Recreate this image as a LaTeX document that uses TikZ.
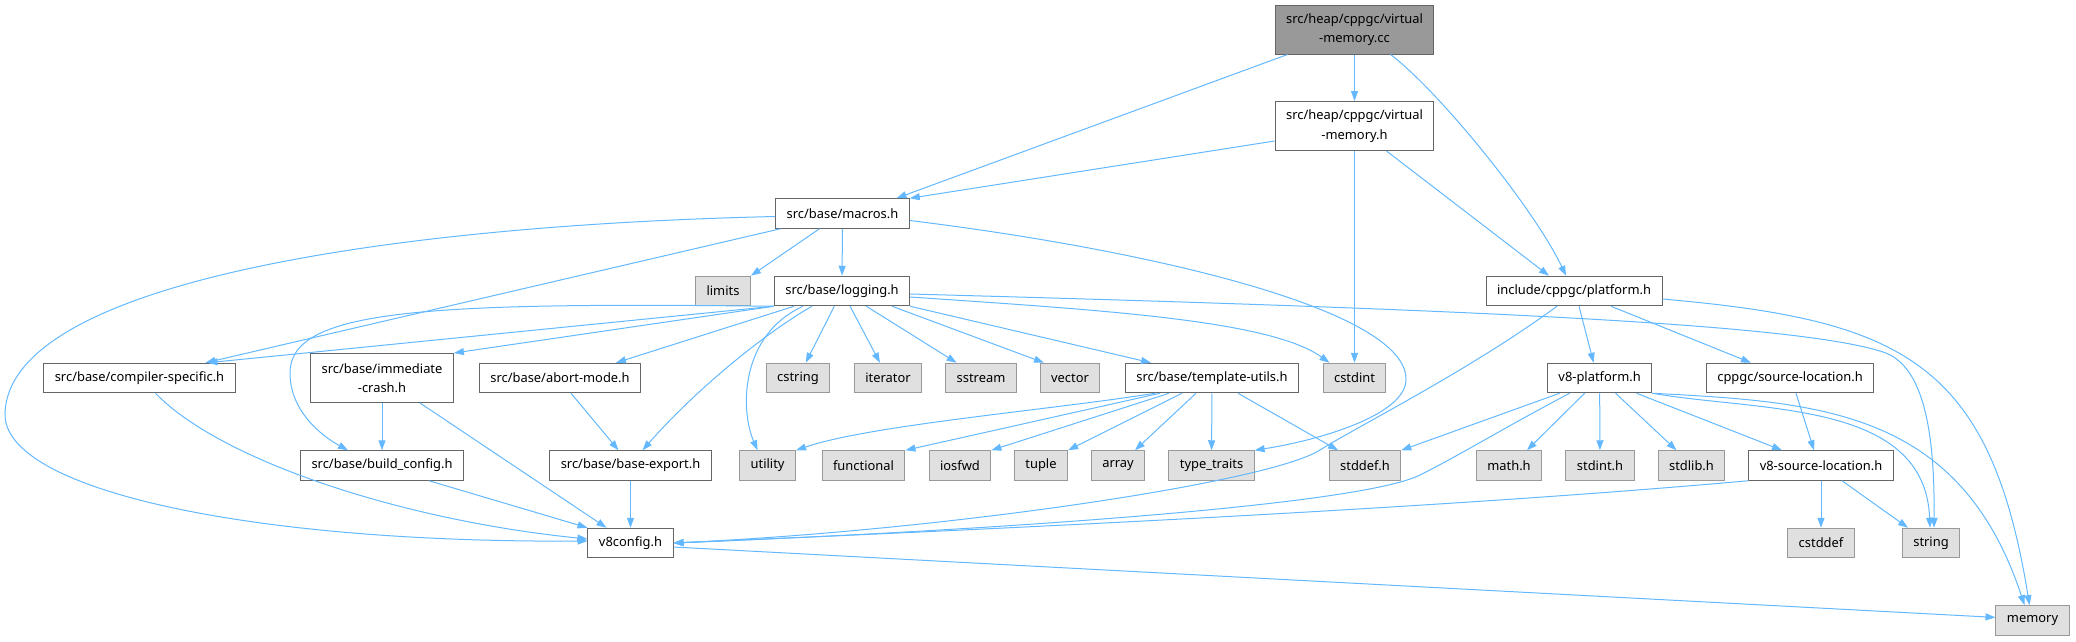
\documentclass[tikz,border=0pt]{standalone}
\usepackage{fontspec}
\setmainfont{Noto Sans}
\usepackage{tikz}
\usetikzlibrary{arrows.meta}
\definecolor{edgeblue}{HTML}{63B8FF}
\definecolor{boxline}{HTML}{666666}
\definecolor{sysline}{HTML}{999999}
\definecolor{sysfill}{HTML}{E0E0E0}
\definecolor{mainfill}{HTML}{999999}

\begin{document}
\begin{tikzpicture}[
  x=1pt, y=-1pt,
  hdr/.style={rectangle, draw=boxline, fill=white, line width=1pt,
    inner xsep=11pt, inner ysep=4pt, minimum height=29.5pt, align=center,
    font=\fontsize{12.9}{19.5}\selectfont},
  twoline/.style={minimum height=49pt},
  mainhdr/.style={hdr, twoline, fill=mainfill},
  syshdr/.style={hdr, draw=sysline, fill=sysfill},
  dep/.style={-{Triangle[length=10pt, width=7pt]}, edgeblue, line width=1pt},
]
\useasboundingbox (0,0) rectangle (2076,641);

\node[mainhdr] (cc) at (1354.5,29.5) {src/heap/cppgc/virtual\\-memory.cc};
\node[hdr, twoline] (vmh) at (1354.5,126) {src/heap/cppgc/virtual\\-memory.h};
\node[hdr] (macros) at (842.5,213.5) {src/base/macros.h};
\node[syshdr] (limits) at (723,291) {limits};
\node[hdr] (logging) at (842,291) {src/base/logging.h};
\node[hdr] (platform) at (1574,291) {include/cppgc/platform.h};

\node[hdr] (compspec) at (139.5,378) {src/base/compiler-specific.h};
\node[hdr, twoline] (immcrash) at (382,378) {src/base/immediate\\-crash.h};
\node[hdr] (abortmode) at (560,378) {src/base/abort-mode.h};
\node[syshdr] (cstring) at (798,378) {cstring};
\node[syshdr] (iterator) at (888,378) {iterator};
\node[syshdr] (sstream) at (981,378) {sstream};
\node[syshdr] (vector) at (1070,378) {vector};
\node[hdr] (templ) at (1212,378) {src/base/template-utils.h};
\node[syshdr] (cstdint) at (1354.5,378) {cstdint};
\node[hdr] (v8platform) at (1599.6,378) {v8-platform.h};
\node[hdr] (srcloc) at (1790,378) {cppgc/source-location.h};

\node[hdr] (buildcfg) at (382,465.5) {src/base/build\_config.h};
\node[hdr] (baseexport) at (630.5,465.5) {src/base/base-export.h};
\node[syshdr] (utility) at (767.6,465.5) {utility};
\node[syshdr] (functional) at (863.5,465.5) {functional};
\node[syshdr] (iosfwd) at (960,465.5) {iosfwd};
\node[syshdr] (tuple) at (1041,465.5) {tuple};
\node[syshdr] (array) at (1118,465.5) {array};
\node[syshdr] (typetraits) at (1211.5,465.5) {type\_traits};
\node[syshdr] (stddef) at (1365,465.5) {stddef.h};
\node[syshdr] (mathh) at (1509,465.5) {math.h};
\node[syshdr] (stdinth) at (1600,465.5) {stdint.h};
\node[syshdr] (stdlibh) at (1691.5,465.5) {stdlib.h};
\node[hdr] (v8srcloc) at (1821,465.5) {v8-source-location.h};

\node[hdr] (v8config) at (630.5,543) {v8config.h};
\node[syshdr] (cstddef) at (1821,543) {cstddef};
\node[syshdr] (string) at (1931,543) {string};
\node[syshdr] (memory) at (2032.5,620.4) {memory};

\draw[dep] ([xshift=-67pt]cc.south) -- ([xshift=54pt]macros.north);
\draw[dep] (cc) -- (vmh);
\draw[dep] ([xshift=36pt]cc.south) .. controls (1440,92) and (1535,210) .. ([xshift=-8pt]platform.north);

\draw[dep] ([yshift=-15pt]vmh.west) -- (macros.north east);
\draw[dep] (vmh) -- (cstdint);
\draw[dep] ([xshift=32pt]vmh.south) -- ([xshift=-25pt]platform.north);

\draw[dep] ([yshift=-3pt]macros.west) .. controls (400,225) and (10,280) .. (5,413) .. controls (2,490) and (250,543) .. ([yshift=2pt]v8config.west);
\draw[dep] ([xshift=-23pt]macros.south) -- (limits.north east);
\draw[dep] (macros) -- (logging);
\draw[dep] ([xshift=-62pt]macros.south) -- ([xshift=66pt]compspec.north);
\draw[dep] ([yshift=-7pt]macros.east) .. controls (1150,250) and (1408,310) .. (1406,380) .. controls (1405,415) and (1320,440) .. (typetraits.north east);

\draw[dep] (logging.south west) -- ([xshift=68pt]compspec.north);
\draw[dep] (logging.south west) .. controls (420,302) and (290,310) .. (290,373) .. controls (290,410) and (320,435) .. ([xshift=-34pt]buildcfg.north);
\draw[dep] (logging.south west) -- (immcrash.north east);
\draw[dep] ([xshift=-48pt]logging.south) -- ([xshift=56pt]abortmode.north);
\draw[dep] ([xshift=-30pt]logging.south) .. controls (770,330) and (700,385) .. ([xshift=12pt]baseexport.north);
\draw[dep] ([xshift=-39pt]logging.south) .. controls (740,335) and (740,410) .. ([xshift=-10pt]utility.north);
\draw[dep] (logging) -- (cstring);
\draw[dep] (logging) -- (iterator);
\draw[dep] (logging) -- (sstream);
\draw[dep] ([xshift=50pt]logging.south) -- ([xshift=-26pt]vector.north);
\draw[dep] (logging.south east) -- ([xshift=-61pt]templ.north);
\draw[dep] ([yshift=-6pt]logging.east) .. controls (1100,310) and (1270,320) .. ([xshift=-25pt]cstdint.north);
\draw[dep] ([yshift=-3pt]logging.east) .. controls (1500,310) and (1800,325) .. (1883,352) .. controls (1920,364) and (1935,420) .. ([xshift=3pt]string.north);

\draw[dep] ([xshift=16pt]compspec.south) .. controls (220,460) and (400,520) .. ([yshift=4pt]v8config.west);
\draw[dep] (immcrash) -- (buildcfg);
\draw[dep] ([xshift=38pt]immcrash.south) -- ([xshift=-24pt]v8config.north);
\draw[dep] ([xshift=11pt]abortmode.south) -- ([xshift=-12pt]baseexport.north);
\draw[dep] ([xshift=47pt]buildcfg.south) -- (v8config.north west);
\draw[dep] (baseexport) -- (v8config);

\draw[dep] ([xshift=-57pt]templ.south) .. controls (1050,410) and (870,425) .. (utility.north east);
\draw[dep] ([xshift=-52pt]templ.south) -- (functional.north east);
\draw[dep] ([xshift=-43pt]templ.south) -- (iosfwd.north east);
\draw[dep] ([xshift=-30pt]templ.south) -- (tuple.north east);
\draw[dep] ([xshift=-16pt]templ.south) -- ([xshift=17pt]array.north);
\draw[dep] (templ) -- (typetraits);
\draw[dep] ([xshift=26pt]templ.south) -- ([xshift=-27pt]stddef.north);

\draw[dep] ([xshift=-17pt]platform.south) .. controls (1470,370) and (1360,425) .. (1320,450) .. controls (1270,482) and (950,530) .. (v8config.east);
\draw[dep] ([yshift=-8pt]platform.east) .. controls (1900,320) and (1990,360) .. ([xshift=-3pt]memory.north);
\draw[dep] ([xshift=5pt]platform.south) -- ([xshift=-6pt]v8platform.north);
\draw[dep] ([xshift=37pt]platform.south) -- ([xshift=-39pt]srcloc.north);

\draw[dep] ([xshift=-40pt]v8platform.south) -- (stddef.north east);
\draw[dep] ([xshift=-30pt]v8platform.south) .. controls (1500,430) and (1460,455) .. (1420,475) .. controls (1360,505) and (1000,530) .. (v8config.east);
\draw[dep] ([xshift=-15pt]v8platform.south) -- ([xshift=18pt]mathh.north);
\draw[dep] (v8platform) -- (stdinth);
\draw[dep] ([xshift=16pt]v8platform.south) -- ([xshift=-15pt]stdlibh.north);
\draw[dep] ([xshift=37pt]v8platform.south) -- ([xshift=-39pt]v8srcloc.north);
\draw[dep] (v8platform.south east) .. controls (1760,412) and (1925,400) .. ([xshift=-1pt]string.north);
\draw[dep] (v8platform.south east) .. controls (1820,402) and (1960,410) .. ([xshift=-8pt]memory.north);

\draw[dep] ([xshift=6pt]srcloc.south) -- ([xshift=-7pt]v8srcloc.north);
\draw[dep] (v8srcloc) -- (cstddef);
\draw[dep] ([xshift=21pt]v8srcloc.south) -- ([xshift=-23pt]string.north);
\draw[dep] (v8srcloc.south west) .. controls (1400,512) and (900,533) .. (v8config.east);

\draw[dep] ([yshift=-4pt]v8config.east) -- ([yshift=3pt]memory.west);

\end{tikzpicture}
\end{document}
